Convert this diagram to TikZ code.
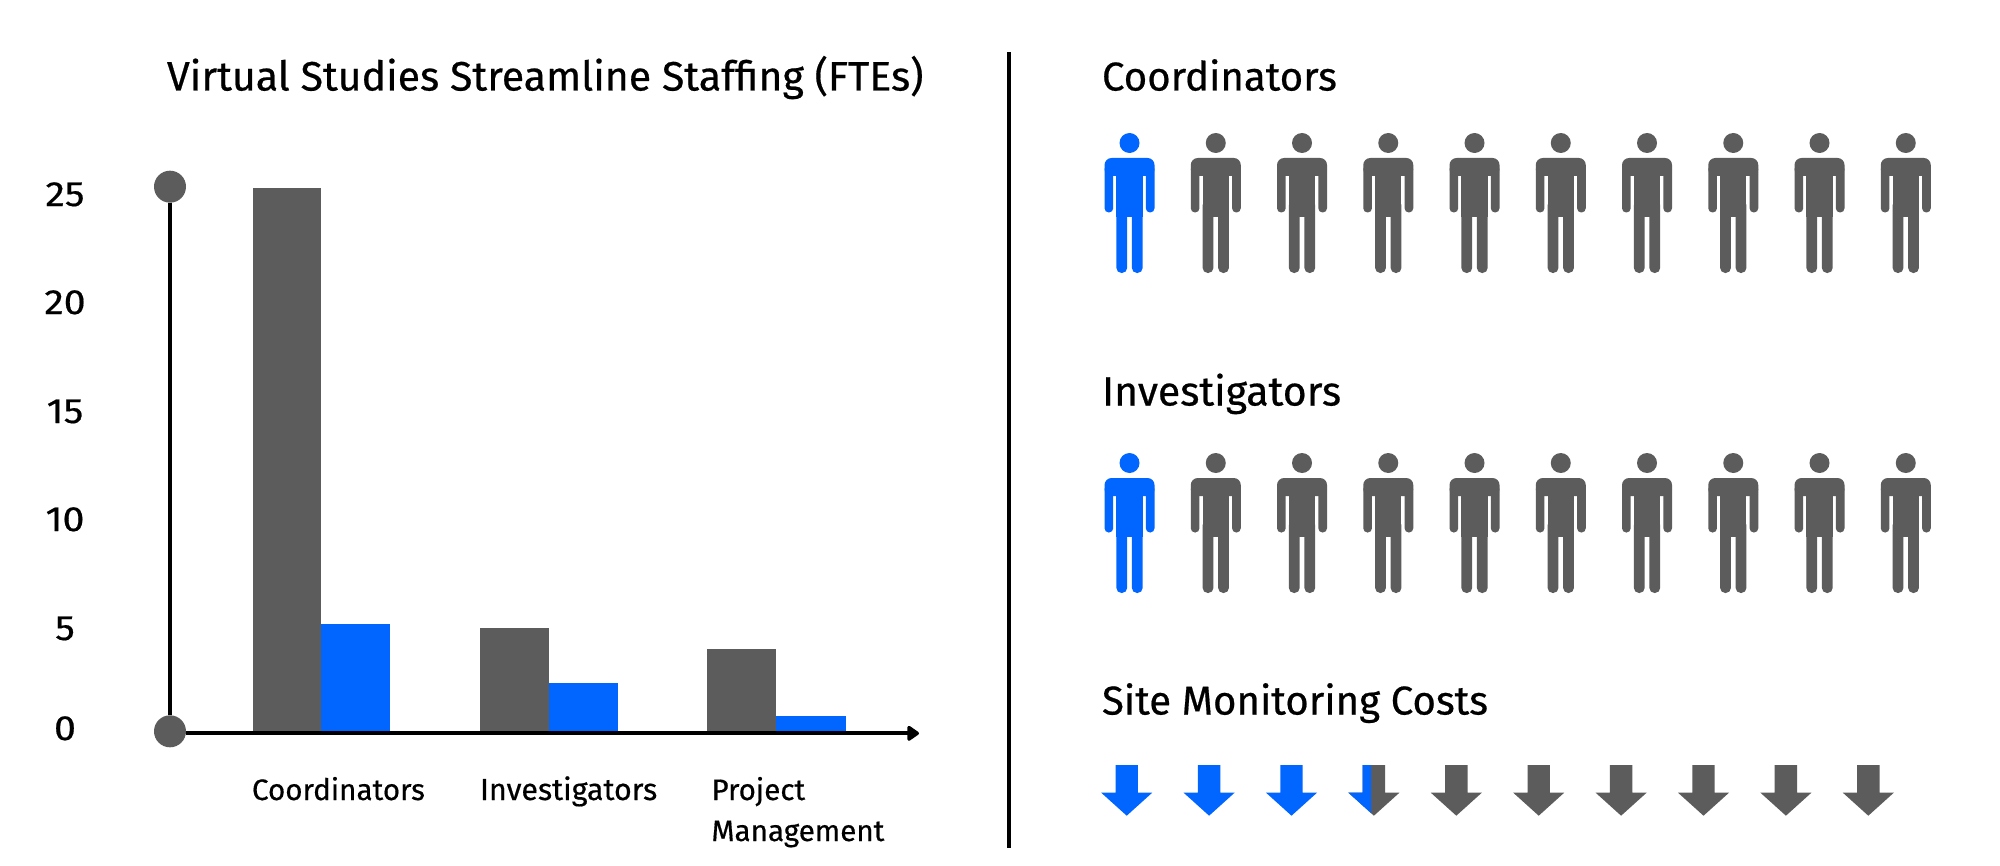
\documentclass[tikz,border=0pt]{standalone}
\usepackage{fontspec}
\setmainfont[FakeBold=0.5]{Fira Sans}
\newfontfamily\tickfont[FakeBold=0.5,FakeStretch=1.12]{Fira Sans}
\usetikzlibrary{arrows.meta}
\definecolor{pgray}{HTML}{5C5C5C}
\definecolor{pblue}{HTML}{0066FF}
\tikzset{
  x=0.5pt,y=-0.5pt,
  heading/.style={anchor=base west,inner sep=0,outer sep=0,font=\fontsize{20.1}{24}\selectfont,text=black},
  titletext/.style={anchor=base west,inner sep=0,outer sep=0,font=\fontsize{20.5}{24}\selectfont,text=black},
  catlabel/.style={anchor=base west,inner sep=0,outer sep=0,font=\fontsize{14.8}{18}\selectfont,text=black},
  ticklabel/.style={anchor=base,inner sep=0,outer sep=0,font=\tickfont\fontsize{17.5}{20}\selectfont,text=black},
  axisdot/.style={circle,fill=pgray,minimum size=16pt,inner sep=0,outer sep=0},
  axisline/.style={draw=black,line width=2.1pt},
  person/.pic={
    \fill[#1] (0,143) circle[radius=5pt];
    \fill[#1,rounded corners=3.5pt] (-25,158) rectangle (25,176);
    \fill[#1,rounded corners=2.1pt] (-25,165) rectangle (-16.3,212.5);
    \fill[#1,rounded corners=2.1pt] (16.3,165) rectangle (25,212.5);
    \fill[#1] (-13.2,160) rectangle (13.2,217);
    \fill[#1,rounded corners=2.6pt] (-13.2,200) rectangle (-2.3,273);
    \fill[#1,rounded corners=2.6pt] (2.3,200) rectangle (13.2,273);
  },
  downarrow/.pic={
    \fill[#1] (-11.2,765) -- (11.2,765) -- (11.2,792.7) -- (25.5,792.7) -- (0,815.7) -- (-25.5,792.7) -- (-11.2,792.7) -- cycle;
  },
}
\begin{document}
\begin{tikzpicture}
\useasboundingbox (0,0) rectangle (2000,866);
\fill[white] (0,0) rectangle (2000,866);
% title and tick labels
\node[titletext] (title) at (167,90.5) {Virtual Studies Streamline Staffing (FTEs)};
\node[ticklabel] (t25) at (65,206) {25};
\node[ticklabel] (t20) at (65,314) {20};
\node[ticklabel] (t15) at (65,423) {15};
\node[ticklabel] (t10) at (65,531) {10};
\node[ticklabel] (t5) at (65,640) {5};
\node[ticklabel] (t0) at (65,740) {0};
% bars
\fill[pgray] (252.7,187.7) rectangle (321.3,732);
\fill[pblue] (321.3,624) rectangle (390,732);
\fill[pgray] (480,628) rectangle (549,732);
\fill[pblue] (549,683.3) rectangle (618,732);
\fill[pgray] (707.3,649) rectangle (776.3,732);
\fill[pblue] (776.3,715.7) rectangle (845.7,732);
% axes
\node[axisdot] (top) at (170,186.7) {};
\node[axisdot] (orig) at (170,731.3) {};
\coordinate (xend) at (919,733.3);
\draw[axisline] (top) -- (orig);
\draw[axisline,-{Triangle[length=6.5pt,width=8.5pt,round]}] (orig.east |- xend) -- (xend);
% category labels
\node[catlabel] (c1) at (252,800) {Coordinators};
\node[catlabel,font=\fontsize{15.2}{18}\selectfont] (c2) at (480,800) {Investigators};
\node[catlabel] (c3) at (711.5,800) {Project};
\node[catlabel] (c4) at (711.5,841) {Management};
% divider
\coordinate (divtop) at (1009,52);
\coordinate (divbot) at (1009,848);
\draw[draw=black,line width=2.2pt] (divtop) -- (divbot);
% right headings
\node[heading] (h1) at (1102,90.5) {Coordinators};
\node[heading,font=\fontsize{20.5}{24}\selectfont] (h2) at (1102,405.5) {Investigators};
\node[heading] (h3) at (1102,714.5) {Site Monitoring Costs};
% people
\foreach \i in {0,...,9}{
  \pgfmathsetmacro{\cx}{1129.5+86.25*\i}
  \ifnum\i=0 \def\pc{pblue}\else\def\pc{pgray}\fi
  \pic at (\cx,0) {person=\pc};
  \pic at (\cx,320) {person=\pc};
}
% arrows
\foreach \i/\pc in {0/pblue,1/pblue,2/pblue,3/pgray,4/pgray,5/pgray,6/pgray,7/pgray,8/pgray,9/pgray}{
  \pgfmathsetmacro{\cx}{1126.7+82.4*\i}
  \pic at (\cx,0) {downarrow=\pc};
}
\begin{scope}
  \clip (1340,760) rectangle (1371,820);
  \pic at (1373.9,0) {downarrow=pblue};
\end{scope}
\end{tikzpicture}
\end{document}
